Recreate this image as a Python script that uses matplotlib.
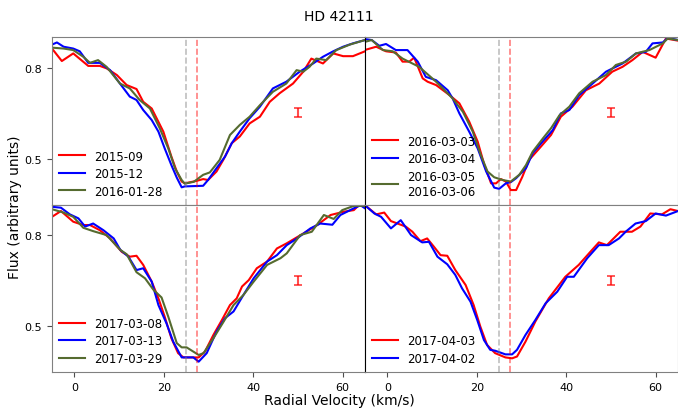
#!/usr/bin/env python

import numpy as np
import matplotlib
matplotlib.use('Agg')
import matplotlib.pyplot as plt

#### Data (velocity in km/s, flux) ####
v_a1 = [-5, -2.8, -0.25, 3.1, 5.7, 7.2, 9.5, 11.7, 13.9, 15.4, 17.3, 19.9, 21.7, 22.9, 24.0, 24.7, 27.3, 28.8, 29.9, 31.8, 33.3, 35.2, 37.0, 39.2, 41.5, 43.7, 45.9, 48.9, 51.2, 53.0, 55.6, 57.9, 60.1, 62.3, 65]
f_a1 = [0.863, 0.822, 0.847, 0.806, 0.806, 0.798, 0.776, 0.743, 0.730, 0.688, 0.666, 0.590, 0.508, 0.459, 0.426, 0.420, 0.428, 0.434, 0.431, 0.459, 0.497, 0.552, 0.574, 0.617, 0.639, 0.688, 0.716, 0.748, 0.787, 0.830, 0.814, 0.847, 0.838, 0.838, 0.854]
v_a2 = [-5, -3.9, -2.4, -0.25, 1.2, 3.1, 5.7, 8.0, 10.2, 12.4, 13.9, 15.4, 17.3, 18.8, 20.2, 21.7, 22.9, 24.0, 24.7, 28.8, 29.9, 31.8, 33.7, 35.2, 37.0, 39.2, 41.5, 44.4, 47.4, 50.4, 53.4, 55.6, 57.9, 60.1, 62.3, 65]
f_a2 = [0.876, 0.883, 0.869, 0.863, 0.854, 0.816, 0.816, 0.792, 0.748, 0.705, 0.694, 0.661, 0.628, 0.590, 0.535, 0.480, 0.439, 0.407, 0.410, 0.412, 0.431, 0.470, 0.508, 0.552, 0.590, 0.634, 0.672, 0.732, 0.754, 0.787, 0.814, 0.836, 0.854, 0.869, 0.880, 0.891]
v_a3 = [-5, -2.4, -0.25, 2, 3.5, 5.3, 7.2, 10.2, 12.4, 14.6, 16.9, 19.1, 21, 22.5, 24.0, 24.7, 26.7, 28.8, 30.3, 32.5, 34.8, 37.0, 39.2, 41.5, 44.4, 47.4, 49.7, 51.2, 52.6, 54.1, 56.3, 58.6, 61.6, 65]
f_a3 = [0.866, 0.863, 0.858, 0.836, 0.816, 0.825, 0.803, 0.748, 0.732, 0.694, 0.666, 0.601, 0.535, 0.470, 0.431, 0.419, 0.425, 0.448, 0.456, 0.497, 0.579, 0.612, 0.639, 0.677, 0.721, 0.748, 0.792, 0.787, 0.803, 0.830, 0.825, 0.858, 0.876, 0.891]

v_b1 = [-5.1, -2.5, -0.3, 1.9, 3.4, 4.9, 6.0, 7.9, 9.0, 10.9, 13.9, 16.1, 18.3, 20.2, 21.7, 23.2, 24.3, 25.4, 26.5, 27.6, 28.8, 30.2, 31.7, 34.0, 36.6, 38.8, 41.4, 44.4, 47.4, 50.3, 52.6, 54.8, 57.1, 60.0, 62.3, 65]
f_b1 = [0.858, 0.869, 0.854, 0.850, 0.820, 0.820, 0.833, 0.765, 0.754, 0.743, 0.710, 0.683, 0.623, 0.557, 0.480, 0.420, 0.420, 0.434, 0.426, 0.398, 0.398, 0.442, 0.497, 0.535, 0.579, 0.639, 0.672, 0.726, 0.748, 0.787, 0.803, 0.825, 0.852, 0.833, 0.896, 0.889]
v_b2 = [-5, -3.5, -1.8, -0.3, 1.9, 4.5, 6.8, 8.6, 10.9, 13.5, 14.6, 16.1, 18.3, 20.2, 22.1, 23.9, 25.0, 26.5, 27.6, 28.8, 31.0, 32.5, 34.4, 37.0, 38.8, 40.7, 42.9, 45.9, 48.9, 52.6, 55.6, 57.8, 59.3, 61.6, 62.7, 65]
f_b2 = [0.894, 0.891, 0.872, 0.878, 0.858, 0.858, 0.820, 0.770, 0.759, 0.726, 0.699, 0.650, 0.590, 0.535, 0.459, 0.406, 0.402, 0.420, 0.424, 0.437, 0.470, 0.519, 0.552, 0.595, 0.650, 0.661, 0.710, 0.748, 0.787, 0.814, 0.847, 0.852, 0.880, 0.883, 0.898, 0.891]
v_b3 = [-5, -3.5, -1, 1.2, 3.4, 7.1, 10.9, 14.6, 16.9, 19.1, 20.9, 22.4, 23.9, 25.8, 27.6, 29.5, 31.0, 32.5, 34.8, 36.6, 38.5, 40.7, 42.9, 45.9, 48.9, 51.1, 53.4, 55.6, 58.6, 61.6, 62.7, 65]
f_b3 = [0.885, 0.891, 0.858, 0.854, 0.830, 0.803, 0.754, 0.699, 0.655, 0.590, 0.513, 0.459, 0.440, 0.431, 0.426, 0.448, 0.480, 0.524, 0.568, 0.601, 0.644, 0.672, 0.716, 0.754, 0.776, 0.809, 0.820, 0.847, 0.858, 0.880, 0.896, 0.891]

v_c1 = [-5, -3, -0.25, 2, 3.5, 5.7, 8.0, 10.6, 12.4, 13.9, 15.4, 17.3, 18.8, 20.2, 21.7, 23.2, 24.4, 26.6, 27.8, 29.2, 31.1, 33.0, 34.8, 36.3, 37.5, 39.0, 40.8, 43.1, 45.3, 47.5, 51.3, 54.3, 57.3, 60.3, 62.5, 63.6, 65]
f_c1 = [0.860, 0.879, 0.844, 0.833, 0.833, 0.816, 0.789, 0.745, 0.729, 0.732, 0.702, 0.647, 0.592, 0.532, 0.461, 0.412, 0.398, 0.398, 0.398, 0.417, 0.472, 0.521, 0.570, 0.592, 0.631, 0.652, 0.691, 0.713, 0.756, 0.773, 0.806, 0.833, 0.866, 0.877, 0.882, 0.898, 0.893]
v_c2 = [-5, -3, -1, 0.9, 2.4, 4.2, 6.5, 8.8, 10.3, 12.1, 13.9, 15.4, 17.3, 18.8, 20.6, 22.1, 24.0, 26.6, 27.8, 29.6, 31.8, 33.7, 35.6, 37.8, 40.1, 43.1, 45.3, 47.5, 49.8, 52.8, 55.0, 57.7, 59.5, 62.5, 64, 65]
f_c2 = [0.893, 0.890, 0.868, 0.855, 0.828, 0.838, 0.816, 0.789, 0.751, 0.729, 0.685, 0.691, 0.647, 0.570, 0.510, 0.450, 0.398, 0.398, 0.384, 0.412, 0.483, 0.527, 0.549, 0.603, 0.658, 0.713, 0.734, 0.767, 0.789, 0.822, 0.838, 0.834, 0.866, 0.888, 0.898, 0.888]
v_c3 = [-5, -2.4, -0.25, 2, 4.2, 7.2, 10.3, 11.7, 13.9, 15.8, 17.7, 19.5, 21.0, 22.9, 24.0, 25.1, 27.8, 28.9, 31.1, 33.4, 35.6, 37.8, 40.1, 43.1, 46.1, 47.5, 50.5, 53.1, 55.8, 58, 59.9, 62.5, 65]
f_c3 = [0.885, 0.874, 0.860, 0.824, 0.813, 0.800, 0.751, 0.737, 0.678, 0.658, 0.620, 0.595, 0.532, 0.445, 0.431, 0.431, 0.406, 0.412, 0.461, 0.516, 0.570, 0.603, 0.647, 0.702, 0.724, 0.740, 0.800, 0.811, 0.866, 0.853, 0.882, 0.896, 0.896]

v_d1 = [-5, -2.5, -0.7, 0.8, 4.1, 5.6, 7.4, 8.9, 10.4, 11.9, 13.4, 15.2, 17.5, 19.3, 20.8, 22.3, 24.1, 26.4, 27.9, 29.0, 30.9, 33.1, 36.1, 39.8, 42.8, 45.4, 47.3, 49.1, 52.1, 54.7, 56.6, 58.8, 61.4, 63.3, 65]
f_d1 = [0.898, 0.868, 0.874, 0.846, 0.828, 0.811, 0.780, 0.789, 0.762, 0.734, 0.732, 0.685, 0.636, 0.570, 0.499, 0.439, 0.412, 0.398, 0.395, 0.401, 0.450, 0.516, 0.592, 0.663, 0.702, 0.745, 0.776, 0.767, 0.811, 0.811, 0.828, 0.871, 0.868, 0.885, 0.879]
v_d2 = [-5, -2.9, -1.4, 0.8, 3.0, 5.3, 7.8, 9.3, 11.2, 13.4, 15.2, 16.7, 18.6, 20.1, 21.6, 23.0, 24.1, 26.4, 27.9, 29.0, 30.9, 33.1, 35.4, 38.0, 40.2, 41.7, 44.7, 47.3, 49.5, 51.8, 53.3, 55.5, 57.8, 60.0, 62.3, 65]
f_d2 = [0.898, 0.871, 0.860, 0.822, 0.849, 0.800, 0.776, 0.778, 0.729, 0.704, 0.669, 0.625, 0.581, 0.521, 0.455, 0.423, 0.420, 0.408, 0.408, 0.423, 0.472, 0.521, 0.576, 0.614, 0.663, 0.663, 0.724, 0.767, 0.767, 0.789, 0.811, 0.838, 0.846, 0.871, 0.864, 0.879]

panels = [
    [(v_a1, f_a1, 'red', '2015-09'), (v_a2, f_a2, 'blue', '2015-12'), (v_a3, f_a3, 'darkolivegreen', '2016-01-28')],
    [(v_b1, f_b1, 'red', '2016-03-03'), (v_b2, f_b2, 'blue', '2016-03-04'), (v_b3, f_b3, 'darkolivegreen', '2016-03-05\n2016-03-06')],
    [(v_c1, f_c1, 'red', '2017-03-08'), (v_c2, f_c2, 'blue', '2017-03-13'), (v_c3, f_c3, 'darkolivegreen', '2017-03-29')],
    [(v_d1, f_d1, 'red', '2017-04-03'), (v_d2, f_d2, 'blue', '2017-04-02')],
]

v_rest = 25.0     # grey dashed line
v_star = 27.5     # red dashed line
err_x, err_y, err_size = 50, 0.652, 0.015

#### Plot ####
fig, axes = plt.subplots(2, 2, figsize=(6.78, 4.14), dpi=100)
fig.subplots_adjust(left=0.0767, right=1.0, top=0.9075, bottom=0.099, wspace=0, hspace=0)

for i, ax in enumerate(axes.flat):
    for v, f, c, lab in panels[i]:
        ax.plot(v, f, color=c, lw=1.5, label=lab)
    ax.axvline(v_rest, color='grey', ls='--', lw=1.2, alpha=0.5)
    ax.axvline(v_star, color='red', ls='--', lw=1.2, alpha=0.5)
    ax.errorbar(err_x, err_y, yerr=err_size, color='red', alpha=0.7, capsize=3, capthick=1.3, lw=1.5)
    ax.set_xlim(-5, 65)
    ax.set_ylim(0.35, 0.90)
    ax.set_yticks([0.5, 0.8])
    ax.set_xticks([0, 20, 40, 60])
    ax.tick_params(labelsize=8, length=3.5, color='0.3')
    for s in ax.spines.values():
        s.set_color('0.5')
    if i % 2 == 1:
        ax.tick_params(left=False, labelleft=False)
        ax.spines['left'].set_color('black')
    if i < 2:
        ax.tick_params(bottom=False, labelbottom=False)
    ax.legend(loc='lower left', frameon=False, fontsize=8.5, handlelength=2.2,
              borderaxespad=0.2, labelspacing=0.38)

fig.suptitle('HD 42111', fontsize=10, y=0.975)
fig.text(0.5, 0.022, 'Radial Velocity (km/s)', ha='center', fontsize=10)
fig.text(0.012, 0.5, 'Flux (arbitrary units)', va='center', rotation=90, fontsize=10)

plt.savefig('out.png', dpi=100)
